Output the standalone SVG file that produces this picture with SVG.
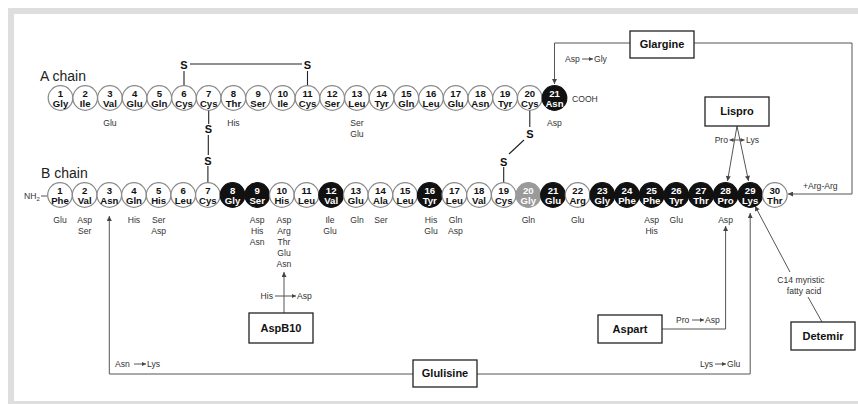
<svg xmlns="http://www.w3.org/2000/svg" width="858" height="404" viewBox="0 0 858 404">
<style>
text{font-family:"Liberation Sans",Arial,sans-serif}
.res circle{fill:#fff;stroke:#8a8a8a;stroke-width:1.2}
.res text{font-size:9.6px;font-weight:bold;fill:#111;text-anchor:middle}
.res.dk circle{fill:#111;stroke:#111}
.res.dk text{fill:#fff}
.res.gy circle{fill:#9a9a9a;stroke:#9a9a9a}
.res.gy text{fill:#fff}
.var{font-size:8.6px;fill:#333;text-anchor:middle}
.lbl{font-size:8.6px;fill:#333}
.s{font-size:11px;font-weight:bold;fill:#111;text-anchor:middle}
.chain{font-size:14px;fill:#222}
.box rect{fill:#fff;stroke:#222;stroke-width:1.3}
.box text{font-size:11px;font-weight:bold;fill:#111;text-anchor:middle}
.ln{fill:none;stroke:#555;stroke-width:1}
.bond{fill:none;stroke:#222;stroke-width:1.1}
</style>
<defs>
<marker id="ah" viewBox="0 0 10 10" refX="10" refY="5" markerWidth="6" markerHeight="5" markerUnits="userSpaceOnUse" orient="auto-start-reverse"><path d="M0,0 L10,5 L0,10 z" fill="#444"/></marker>
<marker id="sh" viewBox="0 0 10 10" refX="10" refY="5" markerWidth="4.5" markerHeight="4" markerUnits="userSpaceOnUse" orient="auto-start-reverse"><path d="M0,0 L10,5 L0,10 z" fill="#444"/></marker>
</defs>
<rect x="8" y="8" width="850" height="396" fill="#dedede"/>
<rect x="14" y="14" width="844" height="387" fill="#fff"/>

<text class="chain" x="40" y="81">A chain</text>
<text class="chain" x="41" y="178">B chain</text>
<text class="lbl" x="572" y="102">COOH</text>
<text class="lbl" x="24" y="199" font-size="8">NH<tspan font-size="6" dy="2">2</tspan></text>

<g id="connectors">
  <!-- disulfide bonds -->
  <path class="bond" d="M184,71 V86 M190,64 H302 M307.5,71 V86"/>
  <path class="bond" d="M208.7,110.5 V124 M208.3,135 V155 M207.9,166 V182.7"/>
  <path class="bond" d="M529.8,110.5 V127 M524,140 L509,154 M503.7,167 V182.7"/>
  <!-- Glargine -->
  <path class="ln" d="M630,43 H554.5 V84" marker-end="url(#ah)"/>
  <path class="ln" d="M694,43 H852 V194 H788" marker-end="url(#ah)"/>
  <!-- Lispro -->
  <path class="ln" d="M737,126 L727.5,181" marker-end="url(#ah)"/>
  <path class="ln" d="M737,126 L748.5,181" marker-end="url(#ah)"/>
  <path class="ln" d="M729.5,140 H744.5" marker-start="url(#sh)" marker-end="url(#sh)"/>
  <!-- AspB10 -->
  <path class="ln" d="M284,313 V272" marker-end="url(#ah)"/>
  <path class="ln" d="M275,296 H296" marker-end="url(#sh)"/>
  <!-- Glulisine -->
  <path class="ln" d="M413,374 H109.3 V216" marker-end="url(#ah)"/>
  <path class="ln" d="M477,374 H750.2 V213" marker-end="url(#ah)"/>
  <!-- Aspart -->
  <path class="ln" d="M662,329 H725.6 V226" marker-end="url(#ah)"/>
  <!-- Detemir -->
  <path class="ln" d="M822,322 L808,297"/>
  <path class="ln" d="M790,272 L755,206" marker-end="url(#ah)"/>
  <!-- NH2 link -->
  <path class="ln" d="M41,196 H47.7"/>
  <!-- substitution arrows in labels -->
  <path class="ln" d="M582,59 H593" marker-end="url(#sh)"/>
  <path class="ln" d="M134,364 H146" marker-end="url(#sh)"/>
  <path class="ln" d="M715,364 H726" marker-end="url(#sh)"/>
  <path class="ln" d="M692,320 H704" marker-end="url(#sh)"/>
  <!-- connector labels -->
  <text class="lbl" x="565" y="62">Asp</text>
  <text class="lbl" x="594" y="62">Gly</text>
  <text class="lbl" x="803" y="189">+Arg-Arg</text>
  <text class="lbl" x="728" y="143" text-anchor="end">Pro</text>
  <text class="lbl" x="746" y="143">Lys</text>
  <text class="lbl" x="273" y="299" text-anchor="end">His</text>
  <text class="lbl" x="297" y="299">Asp</text>
  <text class="lbl" x="115" y="367">Asn</text>
  <text class="lbl" x="147" y="367">Lys</text>
  <text class="lbl" x="700" y="367">Lys</text>
  <text class="lbl" x="727" y="367">Glu</text>
  <text class="lbl" x="676" y="323">Pro</text>
  <text class="lbl" x="705" y="323">Asp</text>
  <text class="lbl" x="801" y="283" text-anchor="middle">C14 myristic</text>
  <text class="lbl" x="804" y="294" text-anchor="middle">fatty acid</text>
</g>

<!-- S atoms -->
<g id="sulfur">
  <text class="s" x="184" y="69">S</text>
  <text class="s" x="307.5" y="69">S</text>
  <text class="s" x="208.5" y="133">S</text>
  <text class="s" x="208" y="165">S</text>
  <text class="s" x="529.8" y="138">S</text>
  <text class="s" x="503.7" y="166">S</text>
</g>

<!-- A chain -->
<g id="A1" class="res" transform="translate(60.5,98)"><circle r="12.3"/><text y="-1">1</text><text y="8.5">Gly</text></g>
<g id="A2" class="res" transform="translate(85.2,98)"><circle r="12.3"/><text y="-1">2</text><text y="8.5">Ile</text></g>
<g id="A3" class="res" transform="translate(109.9,98)"><circle r="12.3"/><text y="-1">3</text><text y="8.5">Val</text></g>
<g id="A4" class="res" transform="translate(134.6,98)"><circle r="12.3"/><text y="-1">4</text><text y="8.5">Glu</text></g>
<g id="A5" class="res" transform="translate(159.3,98)"><circle r="12.3"/><text y="-1">5</text><text y="8.5">Gln</text></g>
<g id="A6" class="res" transform="translate(184,98)"><circle r="12.3"/><text y="-1">6</text><text y="8.5">Cys</text></g>
<g id="A7" class="res" transform="translate(208.7,98)"><circle r="12.3"/><text y="-1">7</text><text y="8.5">Cys</text></g>
<g id="A8" class="res" transform="translate(233.4,98)"><circle r="12.3"/><text y="-1">8</text><text y="8.5">Thr</text></g>
<g id="A9" class="res" transform="translate(258.1,98)"><circle r="12.3"/><text y="-1">9</text><text y="8.5">Ser</text></g>
<g id="A10" class="res" transform="translate(282.8,98)"><circle r="12.3"/><text y="-1">10</text><text y="8.5">Ile</text></g>
<g id="A11" class="res" transform="translate(307.5,98)"><circle r="12.3"/><text y="-1">11</text><text y="8.5">Cys</text></g>
<g id="A12" class="res" transform="translate(332.2,98)"><circle r="12.3"/><text y="-1">12</text><text y="8.5">Ser</text></g>
<g id="A13" class="res" transform="translate(356.9,98)"><circle r="12.3"/><text y="-1">13</text><text y="8.5">Leu</text></g>
<g id="A14" class="res" transform="translate(381.6,98)"><circle r="12.3"/><text y="-1">14</text><text y="8.5">Tyr</text></g>
<g id="A15" class="res" transform="translate(406.3,98)"><circle r="12.3"/><text y="-1">15</text><text y="8.5">Gln</text></g>
<g id="A16" class="res" transform="translate(431,98)"><circle r="12.3"/><text y="-1">16</text><text y="8.5">Leu</text></g>
<g id="A17" class="res" transform="translate(455.7,98)"><circle r="12.3"/><text y="-1">17</text><text y="8.5">Glu</text></g>
<g id="A18" class="res" transform="translate(480.4,98)"><circle r="12.3"/><text y="-1">18</text><text y="8.5">Asn</text></g>
<g id="A19" class="res" transform="translate(505.1,98)"><circle r="12.3"/><text y="-1">19</text><text y="8.5">Tyr</text></g>
<g id="A20" class="res" transform="translate(529.8,98)"><circle r="12.3"/><text y="-1">20</text><text y="8.5">Cys</text></g>
<g id="A21" class="res dk" transform="translate(554.5,98)"><circle r="12.3"/><text y="-1">21</text><text y="8.5">Asn</text></g>

<!-- A chain variants -->
<g id="A-variants">
  <text class="var" x="109.9" y="126">Glu</text>
  <text class="var" x="233.4" y="126">His</text>
  <text class="var" x="356.9" y="126">Ser<tspan x="356.9" dy="11">Glu</tspan></text>
  <text class="var" x="554.5" y="126">Asp</text>
</g>

<!-- B chain -->
<g id="B1" class="res" transform="translate(60,195)"><circle r="12.3"/><text y="-1">1</text><text y="8.5">Phe</text></g>
<g id="B2" class="res" transform="translate(84.65,195)"><circle r="12.3"/><text y="-1">2</text><text y="8.5">Val</text></g>
<g id="B3" class="res" transform="translate(109.3,195)"><circle r="12.3"/><text y="-1">3</text><text y="8.5">Asn</text></g>
<g id="B4" class="res" transform="translate(133.95,195)"><circle r="12.3"/><text y="-1">4</text><text y="8.5">Gln</text></g>
<g id="B5" class="res" transform="translate(158.6,195)"><circle r="12.3"/><text y="-1">5</text><text y="8.5">His</text></g>
<g id="B6" class="res" transform="translate(183.25,195)"><circle r="12.3"/><text y="-1">6</text><text y="8.5">Leu</text></g>
<g id="B7" class="res" transform="translate(207.9,195)"><circle r="12.3"/><text y="-1">7</text><text y="8.5">Cys</text></g>
<g id="B8" class="res dk" transform="translate(232.55,195)"><circle r="12.3"/><text y="-1">8</text><text y="8.5">Gly</text></g>
<g id="B9" class="res dk" transform="translate(257.2,195)"><circle r="12.3"/><text y="-1">9</text><text y="8.5">Ser</text></g>
<g id="B10" class="res" transform="translate(281.85,195)"><circle r="12.3"/><text y="-1">10</text><text y="8.5">His</text></g>
<g id="B11" class="res" transform="translate(306.5,195)"><circle r="12.3"/><text y="-1">11</text><text y="8.5">Leu</text></g>
<g id="B12" class="res dk" transform="translate(331.15,195)"><circle r="12.3"/><text y="-1">12</text><text y="8.5">Val</text></g>
<g id="B13" class="res" transform="translate(355.8,195)"><circle r="12.3"/><text y="-1">13</text><text y="8.5">Glu</text></g>
<g id="B14" class="res" transform="translate(380.45,195)"><circle r="12.3"/><text y="-1">14</text><text y="8.5">Ala</text></g>
<g id="B15" class="res" transform="translate(405.1,195)"><circle r="12.3"/><text y="-1">15</text><text y="8.5">Leu</text></g>
<g id="B16" class="res dk" transform="translate(429.75,195)"><circle r="12.3"/><text y="-1">16</text><text y="8.5">Tyr</text></g>
<g id="B17" class="res" transform="translate(454.4,195)"><circle r="12.3"/><text y="-1">17</text><text y="8.5">Leu</text></g>
<g id="B18" class="res" transform="translate(479.05,195)"><circle r="12.3"/><text y="-1">18</text><text y="8.5">Val</text></g>
<g id="B19" class="res" transform="translate(503.7,195)"><circle r="12.3"/><text y="-1">19</text><text y="8.5">Cys</text></g>
<g id="B20" class="res gy" transform="translate(528.35,195)"><circle r="12.3"/><text y="-1">20</text><text y="8.5">Gly</text></g>
<g id="B21" class="res dk" transform="translate(553,195)"><circle r="12.3"/><text y="-1">21</text><text y="8.5">Glu</text></g>
<g id="B22" class="res" transform="translate(577.65,195)"><circle r="12.3"/><text y="-1">22</text><text y="8.5">Arg</text></g>
<g id="B23" class="res dk" transform="translate(602.3,195)"><circle r="12.3"/><text y="-1">23</text><text y="8.5">Gly</text></g>
<g id="B24" class="res dk" transform="translate(626.95,195)"><circle r="12.3"/><text y="-1">24</text><text y="8.5">Phe</text></g>
<g id="B25" class="res dk" transform="translate(651.6,195)"><circle r="12.3"/><text y="-1">25</text><text y="8.5">Phe</text></g>
<g id="B26" class="res dk" transform="translate(676.25,195)"><circle r="12.3"/><text y="-1">26</text><text y="8.5">Tyr</text></g>
<g id="B27" class="res dk" transform="translate(700.9,195)"><circle r="12.3"/><text y="-1">27</text><text y="8.5">Thr</text></g>
<g id="B28" class="res dk" transform="translate(725.55,195)"><circle r="12.3"/><text y="-1">28</text><text y="8.5">Pro</text></g>
<g id="B29" class="res dk" transform="translate(750.2,195)"><circle r="12.3"/><text y="-1">29</text><text y="8.5">Lys</text></g>
<g id="B30" class="res" transform="translate(774.85,195)"><circle r="12.3"/><text y="-1">30</text><text y="8.5">Thr</text></g>

<!-- B chain variants -->
<g id="B-variants">
  <text class="var" x="60" y="223">Glu</text>
  <text class="var" x="84.65" y="223">Asp<tspan x="84.65" dy="11">Ser</tspan></text>
  <text class="var" x="133.95" y="223">His</text>
  <text class="var" x="158.6" y="223">Ser<tspan x="158.6" dy="11">Asp</tspan></text>
  <text class="var" x="257.2" y="223">Asp<tspan x="257.2" dy="11">His</tspan><tspan x="257.2" dy="11">Asn</tspan></text>
  <text class="var" x="284" y="223">Asp<tspan x="284" dy="11">Arg</tspan><tspan x="284" dy="11">Thr</tspan><tspan x="284" dy="11">Glu</tspan><tspan x="284" dy="11">Asn</tspan></text>
  <text class="var" x="330" y="223">Ile<tspan x="330" dy="11">Glu</tspan></text>
  <text class="var" x="357" y="223">Gln</text>
  <text class="var" x="381" y="223">Ser</text>
  <text class="var" x="431" y="223">His<tspan x="431" dy="11">Glu</tspan></text>
  <text class="var" x="455.5" y="223">Gln<tspan x="455.5" dy="11">Asp</tspan></text>
  <text class="var" x="528.35" y="223">Gln</text>
  <text class="var" x="577.65" y="223">Glu</text>
  <text class="var" x="651.6" y="223">Asp<tspan x="651.6" dy="11">His</tspan></text>
  <text class="var" x="676.25" y="223">Glu</text>
  <text class="var" x="725.55" y="223">Asp</text>
</g>

<!-- analogue boxes -->
<g id="Glargine" class="box"><rect x="630" y="31" width="64" height="27"/><text x="662" y="48">Glargine</text></g>
<g id="Lispro" class="box"><rect x="705" y="97" width="64" height="29"/><text x="737" y="115">Lispro</text></g>
<g id="AspB10" class="box"><rect x="249" y="313" width="64" height="30"/><text x="281" y="332">AspB10</text></g>
<g id="Aspart" class="box"><rect x="598" y="315" width="64" height="28"/><text x="630" y="333">Aspart</text></g>
<g id="Detemir" class="box"><rect x="791" y="322" width="64" height="28"/><text x="823" y="340">Detemir</text></g>
<g id="Glulisine" class="box"><rect x="413" y="360" width="64" height="27"/><text x="445" y="377">Glulisine</text></g>
</svg>
